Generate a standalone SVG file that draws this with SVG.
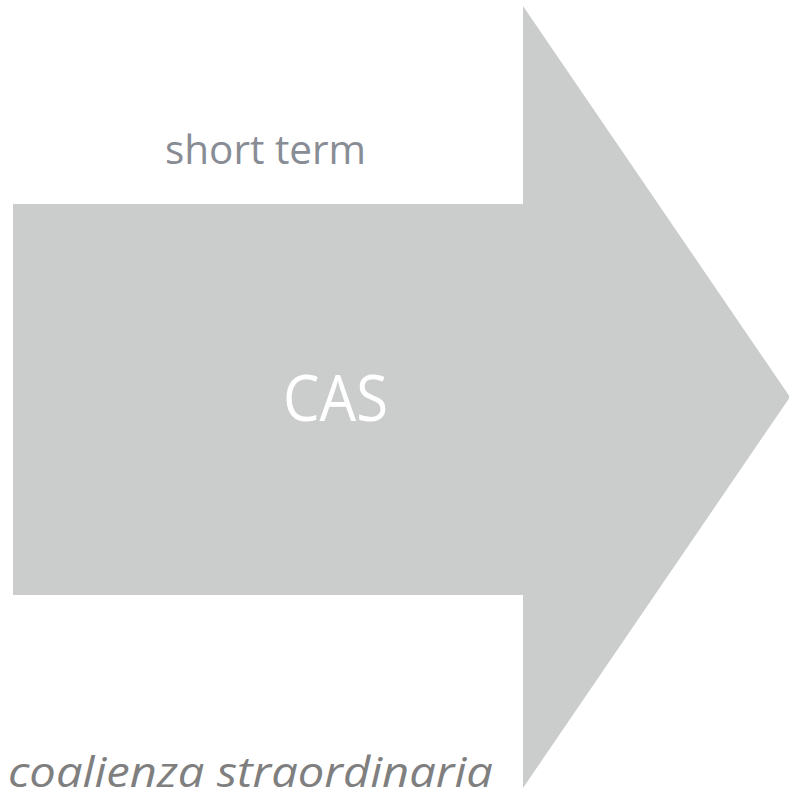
<svg xmlns="http://www.w3.org/2000/svg" width="789" height="789" viewBox="0 0 789 789">
<style>
.lbl{font-family:"Open Sans","Liberation Sans",sans-serif;}
</style>
<rect width="789" height="789" fill="#ffffff"/>
<g id="arrow">
<polygon points="13,204 523,204 523,6 790,397 523,788 523,595 13,595" fill="#cbcdcc"/>
<text class="lbl" x="335.5" y="421" text-anchor="middle" font-size="64" fill="#ffffff" textLength="105" lengthAdjust="spacingAndGlyphs">CAS</text>
</g>
<g id="short-term">
<text class="lbl" x="265.5" y="164" text-anchor="middle" font-size="40" fill="#888c95" textLength="201" lengthAdjust="spacingAndGlyphs">short term</text>
</g>
<g id="bottom-label">
<text class="lbl" x="493" y="787" text-anchor="end" font-size="42" font-style="italic" fill="#7f7f7f" textLength="485" lengthAdjust="spacingAndGlyphs">coalienza straordinaria</text>
</g>
</svg>
